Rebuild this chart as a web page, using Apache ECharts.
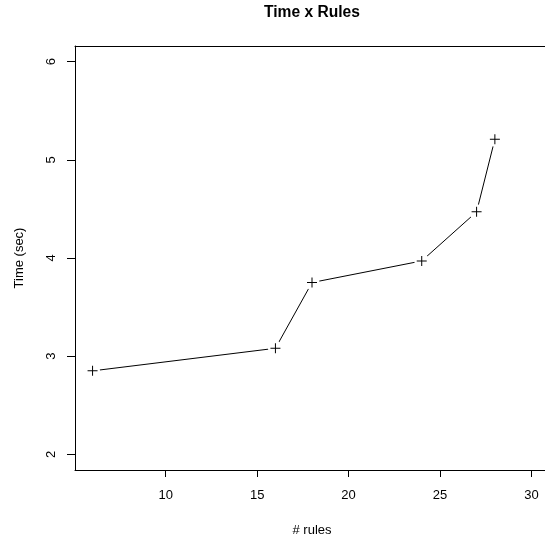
<!DOCTYPE html>
<html>
<head>
<meta charset="utf-8">
<script src="https://cdn.jsdelivr.net/npm/echarts@6/dist/echarts.min.js"></script>
<style>html,body{margin:0;padding:0;background:#fff;overflow:hidden;}#c{width:545px;height:543px;}</style>
</head>
<body>
<div id="c"></div>
<script>
var rules = [6, 16, 18, 24, 27, 28];
var times = [2.85, 3.08, 3.75, 3.97, 4.47, 5.21];
var xTicks = [10, 15, 20, 25, 30];
var yTicks = [2, 3, 4, 5, 6];

var pts = rules.map(function (r, i) { return [r, times[i]]; });
var font = 'Liberation Sans, Arial, Helvetica, sans-serif';
var chart = echarts.init(document.getElementById('c'), null, {renderer: 'canvas'});
chart.setOption({
  animation: false,
  backgroundColor: '#fff',
  title: {
    text: 'Time x Rules', left: 312, textAlign: 'center', top: 5, padding: 0,
    textStyle: {fontFamily: font, fontSize: 15.6, fontWeight: 'bold', color: '#000'}
  },
  grid: {left: 75, top: 46, right: -4, bottom: 73, show: false, outerBoundsMode: 'none', containLabel: false},
  xAxis: [{
    type: 'value', min: 5.04, max: 30.96,
    name: '# rules', nameLocation: 'middle', nameGap: 54,
    nameTextStyle: {fontFamily: font, fontSize: 13, color: '#000'},
    axisLine: {show: true, onZero: false, lineStyle: {color: '#000', width: 1}},
    axisTick: {show: true, inside: false, length: 7, customValues: xTicks, lineStyle: {color: '#000'}},
    axisLabel: {show: true, margin: 19, customValues: xTicks, fontFamily: font, fontSize: 13, color: '#000'},
    splitLine: {show: false}
  }, {
    type: 'value', min: 5.04, max: 30.96, position: 'top',
    axisLine: {show: true, onZero: false, lineStyle: {color: '#000', width: 1}},
    axisTick: {show: false}, axisLabel: {show: false}, splitLine: {show: false}
  }],
  yAxis: {
    type: 'value', min: 1.84, max: 6.16,
    name: 'Time (sec)', nameLocation: 'middle', nameGap: 49, nameRotate: 90,
    nameTextStyle: {fontFamily: font, fontSize: 13, color: '#000'},
    axisLine: {show: true, onZero: false, lineStyle: {color: '#000', width: 1}},
    axisTick: {show: true, inside: false, length: 8, customValues: yTicks, lineStyle: {color: '#000'}},
    axisLabel: {show: true, margin: 17, rotate: 90, customValues: yTicks, fontFamily: font, fontSize: 13, color: '#000'},
    splitLine: {show: false}
  },
  graphic: [{
    type: 'rect', z: 100, silent: true,
    shape: {x: 538, y: 48, width: 10, height: 420},
    style: {fill: '#fff'}
  }],
  series: [
    {type: 'line', data: pts, showSymbol: false, symbol: 'none', z: 2,
     lineStyle: {color: '#000', width: 1}},
    {type: 'scatter', data: pts, symbol: 'circle', symbolSize: 15, z: 3,
     itemStyle: {color: '#fff', opacity: 1}, silent: true},
    {type: 'scatter', data: pts, z: 4,
     symbol: 'path://M0,4.5H10V5.5H0Z M4.5,0H5.5V10H4.5Z', symbolSize: 10,
     itemStyle: {color: '#000', opacity: 1}}
  ]
});
</script>
</body>
</html>
